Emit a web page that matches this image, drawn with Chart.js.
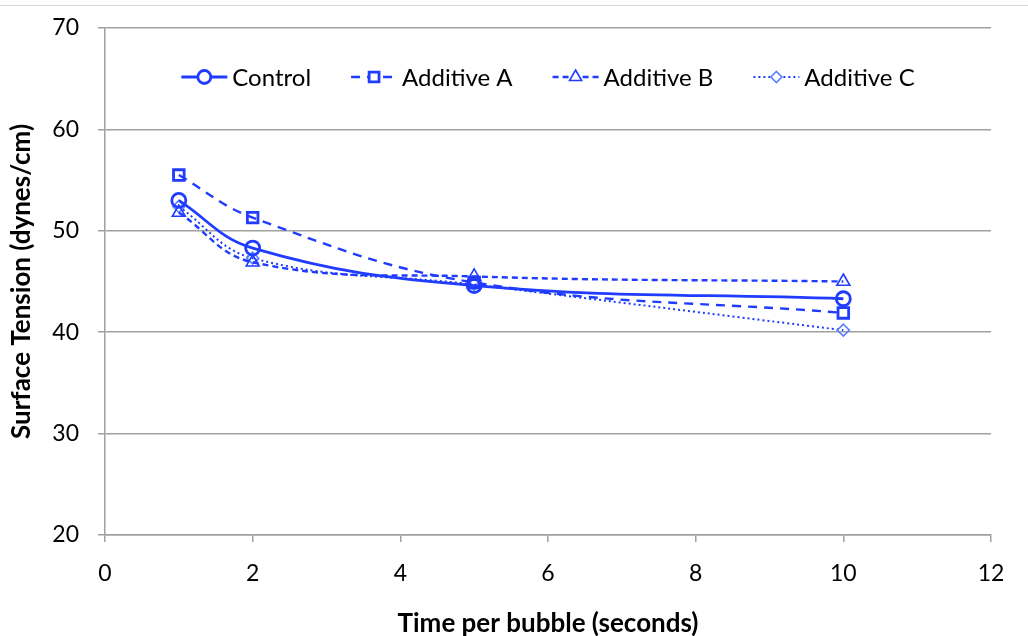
<!DOCTYPE html>
<html>
<head>
<meta charset="utf-8">
<script src="https://cdn.jsdelivr.net/npm/chart.js@4.4.1/dist/chart.umd.min.js"></script>
<style>
  html, body { margin: 0; padding: 0; background: #fff; }
  #wrap { width: 1028px; height: 636px; position: relative; }
</style>
</head>
<body>
<div id="wrap"><canvas id="chart" width="1028" height="636"></canvas></div>
<script>
const times = [1, 2, 5, 10];
const controlVals = [53.0, 48.3, 44.6, 43.3];
const additiveA = [55.5, 51.3, 44.9, 41.9];
const additiveB = [51.8, 46.9, 45.5, 45.0];
const additiveC = [52.4, 47.3, 44.7, 40.2];
const seriesNames = ['Control', 'Additive A', 'Additive B', 'Additive C'];

const blue = '#1f3cff';
const lightBlue = '#5a80ff';

function toPoints(vals) {
    return times.map((t, i) => ({ x: t, y: vals[i] }));
}

const datasets = [
    { label: seriesNames[0], data: toPoints(controlVals), borderColor: blue, borderWidth: 2.8,
      pointStyle: 'circle', pointRadius: 7, pointBorderWidth: 2.8, pointBorderColor: blue, borderDash: [] },
    { label: seriesNames[1], data: toPoints(additiveA), borderColor: blue, borderWidth: 2.4,
      pointStyle: 'rect', pointRadius: 7.5, pointBorderWidth: 2.8, pointBorderColor: blue, borderDash: [9, 7] },
    { label: seriesNames[2], data: toPoints(additiveB), borderColor: blue, borderWidth: 2.4,
      pointStyle: 'triangle', pointRadius: 7.5, pointBorderWidth: 1.6, pointBorderColor: blue, borderDash: [6, 4] },
    { label: seriesNames[3], data: toPoints(additiveC), borderColor: blue, borderWidth: 2,
      pointStyle: 'rectRot', pointRadius: 6, pointBorderWidth: 1.6, pointBorderColor: lightBlue, borderDash: [2, 3] }
];
datasets.forEach(d => {
    d.backgroundColor = 'rgba(0,0,0,0)';
    d.pointBackgroundColor = 'rgba(255,255,255,0)';
    d.tension = 0.4;
    d.fill = false;
});

// legend drawn inside the plot, Excel style (line with marker in the middle)
const insideLegend = {
    id: 'insideLegend',
    afterDraw(chart) {
        const ctx = chart.ctx;
        const area = chart.chartArea;
        ctx.save();
        ctx.font = '24px Lato';
        const lineLen = 46, gapText = 5, gapItem = 40;
        const widths = chart.data.datasets.map(d => lineLen + gapText + ctx.measureText(d.label).width);
        const total = widths.reduce((a, b) => a + b, 0) + gapItem * (widths.length - 1);
        let x = (area.left + area.right) / 2 - total / 2;
        const y = 77;
        chart.data.datasets.forEach((d, i) => {
            ctx.strokeStyle = d.borderColor;
            ctx.lineWidth = d.borderWidth;
            ctx.setLineDash(d.borderDash);
            ctx.beginPath();
            ctx.moveTo(x, y);
            ctx.lineTo(x + lineLen, y);
            ctx.stroke();
            ctx.setLineDash([]);
            ctx.fillStyle = '#fff';
            ctx.strokeStyle = d.pointBorderColor;
            ctx.lineWidth = d.pointBorderWidth;
            Chart.helpers.drawPoint(ctx, { pointStyle: d.pointStyle, radius: d.pointRadius - 0.5, borderWidth: d.pointBorderWidth }, x + lineLen / 2, y);
            ctx.fillStyle = '#000';
            ctx.textBaseline = 'middle';
            ctx.fillText(d.label, x + lineLen + gapText, y + 1);
            x += widths[i] + gapItem;
        });
        ctx.restore();
    },
    beforeDraw(chart) {
        const ctx = chart.ctx;
        ctx.save();
        ctx.fillStyle = '#fff';
        ctx.fillRect(0, 0, chart.width, chart.height);
        ctx.strokeStyle = '#d9d9d9';
        ctx.lineWidth = 1;
        ctx.beginPath();
        ctx.moveTo(0, 5.5);
        ctx.lineTo(chart.width, 5.5);
        ctx.stroke();
        ctx.restore();
    }
};

new Chart(document.getElementById('chart'), {
    type: 'line',
    data: { datasets: datasets },
    plugins: [insideLegend],
    options: {
        responsive: false,
        animation: false,
        layout: { padding: { left: 0, right: 37, top: 28, bottom: 0 } },
        plugins: { legend: { display: false }, tooltip: { enabled: false } },
        scales: {
            x: {
                type: 'linear', min: 0, max: 12,
                ticks: { stepSize: 2, color: '#000', font: { family: 'Lato', size: 23 }, padding: 18 },
                grid: { drawOnChartArea: false, drawTicks: true, tickLength: 7, color: '#a0a0a0', lineWidth: 1.5 },
                border: { display: true, color: '#a0a0a0', width: 1.5 },
                title: { display: true, text: 'Time per bubble (seconds)', color: '#000',
                         font: { family: 'Lato', size: 26, weight: 'bold' }, padding: { top: 10, bottom: -3 } },
                afterFit(scale) { scale.height = 101; }
            },
            y: {
                min: 20, max: 70,
                ticks: { stepSize: 10, color: '#000', font: { family: 'Lato', size: 23 }, padding: 19 },
                grid: { drawOnChartArea: true, drawTicks: true, tickLength: 7, color: '#a0a0a0', lineWidth: 1.5 },
                border: { display: true, color: '#a0a0a0', width: 1.5 },
                title: { display: true, text: 'Surface Tension (dynes/cm)', color: '#000',
                         font: { family: 'Lato', size: 26, weight: 'bold' }, padding: { top: 6 } },
                afterFit(scale) {
                    scale.width = 105;
                    scale.paddingTop = 10;
                    scale.paddingBottom = 10;
                }
            }
        }
    }
});
</script>
</body>
</html>
